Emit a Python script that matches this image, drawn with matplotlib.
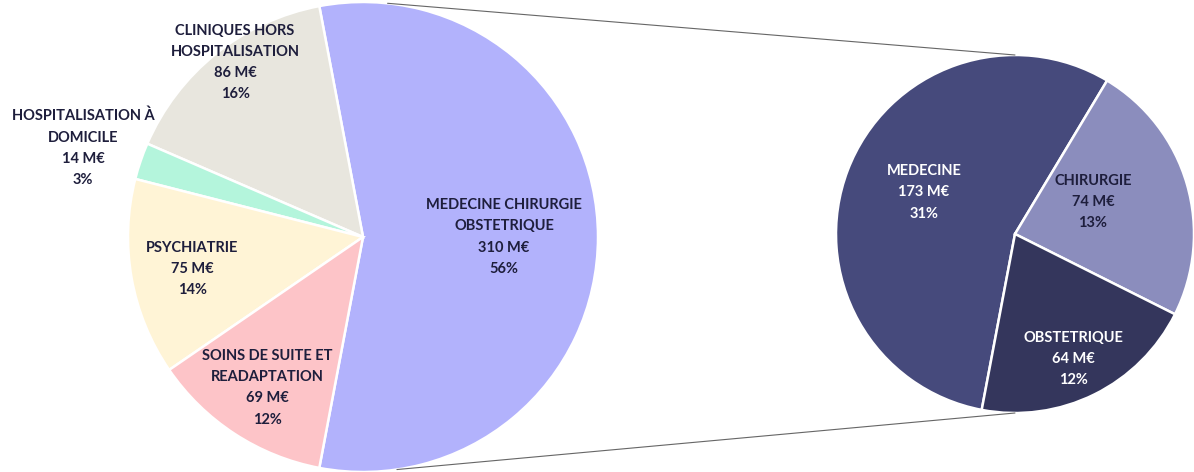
import numpy as np
import matplotlib.pyplot as plt
from matplotlib.patches import ConnectionPatch

plt.rcParams['font.family'] = ['Lato', 'DejaVu Sans']

# main pie
main_labels = ['MEDECINE CHIRURGIE\nOBSTETRIQUE', 'CLINIQUES HORS\nHOSPITALISATION',
               'HOSPITALISATION À\nDOMICILE', 'PSYCHIATRIE', 'SOINS DE SUITE ET\nREADAPTATION']
main_values = [310, 86, 14, 75, 69]
main_pct = [56, 16, 3, 14, 12]
main_colors = ['#b2b2fc', '#e8e6de', '#b4f5dc', '#fff4d6', '#fdc4c8']

# detail pie (MCO)
sub_labels = ['MEDECINE', 'CHIRURGIE', 'OBSTETRIQUE']
sub_values = [173, 74, 64]
sub_pct = [31, 13, 12]
sub_colors = ['#464a7c', '#8b8dbd', '#34365c']
sub_text = ['white', '#1e1e3c', 'white']

fig = plt.figure(figsize=(11.94, 4.72), dpi=100)
ax = fig.add_axes([0, 0, 1, 1])

c1, r1 = (363, 235), 235
c2, r2 = (1015, 238), 179
start = -180 * main_values[0] / sum(main_values)

w1, _ = ax.pie(main_values, colors=main_colors, startangle=start, center=c1, radius=r1,
               wedgeprops=dict(edgecolor='white', linewidth=1.8), frame=True)
w2, _ = ax.pie(sub_values, colors=sub_colors, startangle=start, counterclock=False,
               center=c2, radius=r2, wedgeprops=dict(edgecolor='white', linewidth=1.8),
               frame=True)
ax.set_xlim(0, 1194)
ax.set_ylim(0, 472)
ax.set_aspect('equal')
ax.axis('off')

txt = dict(ha='center', va='center', fontsize=10.5, fontweight='bold', linespacing=1.65)

# label placement: radius fraction and angle shift per slice
main_rf = [0.60, 0.92, 1.25, 0.74, 0.76]
main_da = [0, -2.4, 1.2, 0.5, 0.8]
for w, lab, v, p, rf, da in zip(w1, main_labels, main_values, main_pct, main_rf, main_da):
    a = np.deg2rad((w.theta1 + w.theta2) / 2 + da)
    x = c1[0] + rf * r1 * np.cos(a)
    y = c1[1] + rf * r1 * np.sin(a)
    ax.text(x, y, f'{lab}\n{v} M€\n{p}%', color='#1e1e3c', **txt)

sub_rf = [0.56, 0.47, 0.77]
sub_da = [-3.7, 6, -1.4]
for w, lab, v, p, rf, da, tc in zip(w2, sub_labels, sub_values, sub_pct, sub_rf, sub_da, sub_text):
    a = np.deg2rad((w.theta1 + w.theta2) / 2 + da)
    x = c2[0] + rf * r2 * np.cos(a)
    y = c2[1] + rf * r2 * np.sin(a)
    ax.text(x, y, f'{lab}\n{v} M€\n{p}%', color=tc, **txt)

# connecting lines between the pies
for a1, a2 in [(84, 90), (-81.7, -90)]:
    p1 = (c1[0] + r1 * np.cos(np.deg2rad(a1)), c1[1] + r1 * np.sin(np.deg2rad(a1)))
    p2 = (c2[0] + r2 * np.cos(np.deg2rad(a2)), c2[1] + r2 * np.sin(np.deg2rad(a2)))
    con = ConnectionPatch(xyA=p1, xyB=p2, coordsA='data', coordsB='data',
                          color='#666666', linewidth=0.8)
    ax.add_artist(con)

fig.savefig('out.png', dpi=100)
